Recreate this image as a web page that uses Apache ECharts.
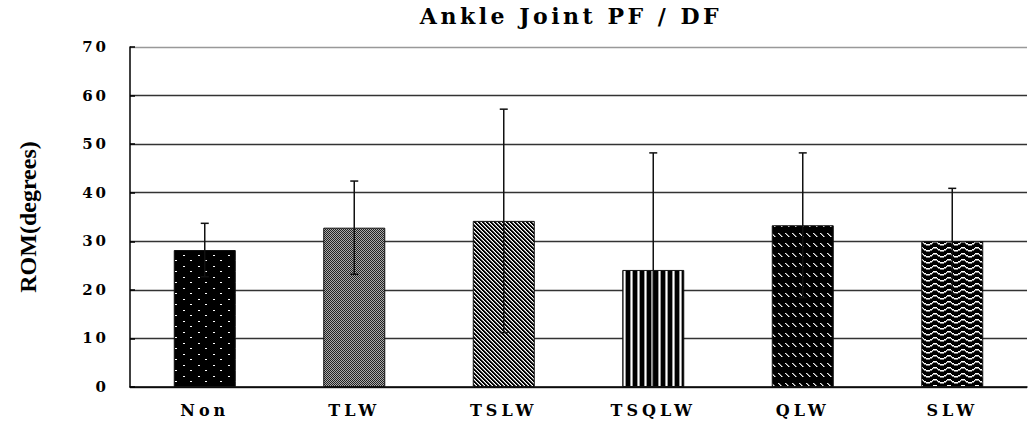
<!DOCTYPE html>
<html><head><meta charset="utf-8">
<script src="https://cdn.jsdelivr.net/npm/echarts@6/dist/echarts.min.js"></script>
<style>
html,body{margin:0;padding:0;background:#fff}
#main{width:1030px;height:426px}
#main text[style*="22px"]{letter-spacing:3.5px}
#main text[style*="16px"]{letter-spacing:4px}
#main text[style*="15px"]{letter-spacing:3px}
</style></head><body><div id="main"></div>
<script>
const categories = ['Non', 'TLW', 'TSLW', 'TSQLW', 'QLW', 'SLW'];
const means = [28.2, 32.8, 34.2, 24.1, 33.3, 30.0];
const sds = [5.5, 9.6, 23.0, 24.1, 14.9, 10.9];
const yMin = 0, yMax = 70, yStep = 10;
const titleText = 'Ankle Joint PF / DF';
const yName = 'ROM(degrees)';

function tile(w, h, draw) {
  const c = document.createElement('canvas');
  c.width = w; c.height = h;
  const g = c.getContext('2d');
  draw(g, w, h);
  return c;
}
const patterns = [
  tile(15, 11, (g, w, h) => { g.fillStyle = '#000'; g.fillRect(0, 0, w, h); g.fillStyle = '#fff'; g.fillRect(3, 2, 2, 1); g.fillRect(10, 7, 2, 1); }),
  tile(2, 2, (g, w, h) => { g.fillStyle = '#aaa'; g.fillRect(0, 0, w, h); g.fillStyle = '#222'; g.fillRect(0, 0, 1, 1); g.fillRect(1, 1, 1, 1); }),
  tile(4, 4, (g, w, h) => { for (let y = 0; y < h; y++) for (let x = 0; x < w; x++) { const d = ((x - y) % 4 + 4) % 4; g.fillStyle = d < 2 ? '#000' : (d === 2 ? '#888' : '#fff'); g.fillRect(x, y, 1, 1); } }),
  tile(7, 1, (g, w, h) => { g.fillStyle = '#000'; g.fillRect(0, 0, w, h); g.fillStyle = '#999'; g.fillRect(0, 0, 1, 1); g.fillRect(2, 0, 1, 1); g.fillStyle = '#fff'; g.fillRect(1, 0, 1, 1); }),
  tile(7, 10, (g, w, h) => { g.fillStyle = '#000'; g.fillRect(0, 0, w, h); g.fillStyle = '#eee'; for (let k = 0; k < 4; k++) g.fillRect(1 + k, 3 + k, 1, 1); g.fillStyle = '#777'; for (let k = 0; k < 4; k++) g.fillRect(2 + k, 3 + k, 1, 1); }),
  tile(14, 6, (g, w, h) => { g.fillStyle = '#000'; g.fillRect(0, 0, w, h); for (let x = 0; x < w; x++) { const y = 2.5 + 1.5 * Math.sin(2 * Math.PI * x / w); g.fillStyle = '#fff'; g.fillRect(x, Math.round(y), 1, 1); g.fillStyle = '#888'; g.fillRect(x, Math.round(y) + 1, 1, 1); } })
];

const chart = echarts.init(document.getElementById('main'), null, { renderer: 'svg' });
const wide = 'DejaVu Serif';
const serif = 'Liberation Serif';
chart.setOption({
  animation: false,
  backgroundColor: '#fff',
  title: {
    text: titleText, left: 571, top: 5, padding: 0, textAlign: 'center',
    textStyle: { fontFamily: wide, fontWeight: 'bold', fontSize: 22, color: '#000' }
  },
  grid: { left: 130, right: 3, top: 47, bottom: 39, containLabel: false },
  xAxis: {
    type: 'category', data: categories,
    axisLine: { lineStyle: { color: '#000', width: 1.5 } },
    axisTick: { inside: true, length: 4, lineStyle: { color: '#000', width: 1.5 } },
    axisLabel: { fontFamily: wide, fontWeight: 'bold', fontSize: 16, color: '#000', margin: 15 }
  },
  yAxis: {
    type: 'value', min: yMin, max: yMax, interval: yStep,
    name: yName, nameLocation: 'middle', nameGap: 90,
    nameTextStyle: { fontFamily: serif, fontWeight: 'bold', fontSize: 24, color: '#000' },
    axisLine: { show: true, lineStyle: { color: '#000', width: 1.5 } },
    axisTick: { show: true, inside: true, length: 5, lineStyle: { color: '#000', width: 1.5 } },
    axisLabel: { fontFamily: wide, fontWeight: 'bold', fontSize: 15, color: '#000', margin: 21 },
    splitLine: { lineStyle: { color: ['#333', '#333', '#333', '#333', '#333', '#333', '#333', '#999'], width: 1.3 } }
  },
  series: [
    {
      type: 'bar', barWidth: 62,
      data: means.map((v, i) => ({ value: v, itemStyle: { color: { image: patterns[i], repeat: 'repeat' } } })),
      itemStyle: { borderColor: '#111', borderWidth: 1 }
    },
    {
      type: 'custom', z: 5,
      data: categories.map((c, i) => [i, means[i], sds[i]]),
      encode: { x: 0, y: 1 },
      renderItem: (params, api) => {
        const i = api.value(0), m = api.value(1), s = api.value(2);
        const top = api.coord([i, m + s]);
        const bot = api.coord([i, Math.max(m - s, yMin)]);
        const half = 4;
        const st = { stroke: '#111', lineWidth: 1.5 };
        return {
          type: 'group', children: [
            { type: 'line', shape: { x1: top[0], y1: top[1], x2: bot[0], y2: bot[1] }, style: st },
            { type: 'line', shape: { x1: top[0] - half, y1: top[1], x2: top[0] + half, y2: top[1] }, style: st },
            { type: 'line', shape: { x1: bot[0] - half, y1: bot[1], x2: bot[0] + half, y2: bot[1] }, style: st }
          ]
        };
      }
    }
  ]
});
</script></body></html>
